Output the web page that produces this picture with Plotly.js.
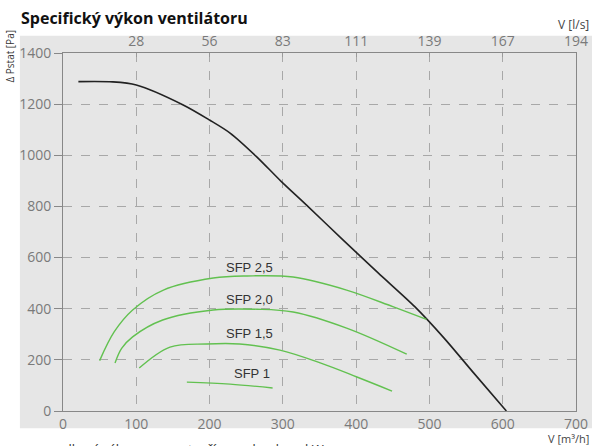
<!DOCTYPE html>
<html><head><meta charset="utf-8">
<script src="https://cdn.plot.ly/plotly-3.0.1.min.js"></script>
<style>html,body{margin:0;padding:0;background:#fff}#c{width:592px;height:446px}</style>
</head><body><div id="c"></div>
<script>
// Fan curve (black)
const fanX = [21, 68, 100, 164, 200, 228, 264, 298, 332, 382, 430, 480, 520, 560, 605];
const fanY = [1288, 1287, 1275, 1197, 1138, 1087, 995, 897, 806, 669, 540, 408, 285, 150, 0];
// SFP curves (green)
const sfp25X = [50, 70, 95, 137, 205, 251, 314, 387, 450, 496];
const sfp25Y = [197, 310, 395, 473, 520, 528, 524, 473, 408, 358];
const sfp20X = [71, 80, 95, 136, 205, 265, 314, 387, 469];
const sfp20Y = [188, 245, 290, 356, 395, 398, 387, 324, 222];
const sfp15X = [104, 146, 196, 241, 296, 351, 401, 449];
const sfp15Y = [168, 250, 262, 262, 238, 188, 133, 78];
const sfp10X = [169, 228, 286];
const sfp10Y = [113, 105, 90];
const sfpLabels = ["SFP 2,5", "SFP 2,0", "SFP 1,5", "SFP 1"];
const sfpLabelX = [255, 255, 255, 258];
const sfpLabelY = [563, 438, 305, 145];
// axes
const bottomTicks = [0, 100, 200, 300, 400, 500, 600, 700];
const topTickVals = [100, 200, 300, 400, 500, 600, 700];
const topTickText = ["28", "56", "83", "111", "139", "167", "194"];
const yTicks = [0, 200, 400, 600, 800, 1000, 1200, 1400];

const green = '#62c150';
const traces = [
  {x: fanX, y: fanY, mode: 'lines', line: {color: '#222', width: 1.6, shape: 'spline', smoothing: 0.8}},
  {x: sfp25X, y: sfp25Y, mode: 'lines', line: {color: green, width: 1.4, shape: 'spline'}},
  {x: sfp20X, y: sfp20Y, mode: 'lines', line: {color: green, width: 1.4, shape: 'spline'}},
  {x: sfp15X, y: sfp15Y, mode: 'lines', line: {color: green, width: 1.4, shape: 'spline'}},
  {x: sfp10X, y: sfp10Y, mode: 'lines', line: {color: green, width: 1.4, shape: 'spline'}},
  {x: topTickVals, y: topTickVals.map(() => null), xaxis: 'x2', mode: 'lines', hoverinfo: 'skip', showlegend: false}
];

const tickFont = {family: 'Open Sans, Noto Sans, sans-serif', size: 14, color: '#7a7a7a'};
const annotations = sfpLabels.map((t, i) => ({
  x: sfpLabelX[i], y: sfpLabelY[i], xref: 'x', yref: 'y', text: t, showarrow: false,
  font: {family: 'Liberation Sans, Arial, sans-serif', size: 13, color: '#333'}
}));
annotations.push(
  {xref: 'paper', yref: 'paper', x: 1.03, y: 1.05, xanchor: 'right', yanchor: 'bottom', text: 'V [l/s]', showarrow: false,
   font: {family: 'Open Sans, sans-serif', size: 12, color: '#444'}},
  {xref: 'paper', yref: 'paper', x: 1.03, y: -0.05, xanchor: 'right', yanchor: 'top', text: 'V [m³/h]', showarrow: false,
   font: {family: 'Open Sans, sans-serif', size: 11, color: '#444'}},
  {xref: 'paper', yref: 'paper', x: -0.086, y: 1.062, xanchor: 'left', yanchor: 'bottom', text: '<b>Specifický výkon ventilátoru</b>', showarrow: false,
   font: {family: 'Open Sans, sans-serif', size: 16, color: '#111'}},
  {xref: 'paper', yref: 'paper', x: -0.103, y: 1.07, xanchor: 'center', yanchor: 'top', text: 'Δ Pstat [Pa]', textangle: -90, showarrow: false,
   font: {family: 'Open Sans, sans-serif', size: 10, color: '#333'}},
  {xref: 'paper', yref: 'paper', x: -0.02, y: -0.075, xanchor: 'left', yanchor: 'top', text: 'celkový výkon pro vent. přív. a odpad. vz. kW', showarrow: false,
   font: {family: 'Open Sans, sans-serif', size: 13, color: '#333'}}
);

const layout = {
  width: 592, height: 446,
  margin: {l: 63, r: 16, t: 53, b: 35, pad: 0},
  paper_bgcolor: '#fff', plot_bgcolor: 'rgba(0,0,0,0)',
  showlegend: false,
  xaxis: {range: [0, 700], tickvals: bottomTicks, tickfont: tickFont, showgrid: true, gridcolor: '#a8a8a8', griddash: 'dash', gridwidth: 1,
          showline: true, linecolor: '#888', linewidth: 1, mirror: false, zeroline: false, ticks: '', fixedrange: true},
  xaxis2: {range: [0, 700], overlaying: 'x', side: 'top', tickvals: topTickVals, ticktext: topTickText, tickfont: tickFont,
           showgrid: false, showline: true, linecolor: '#888', linewidth: 1, zeroline: false, ticks: 'inside', ticklen: 4, tickcolor: '#999'},
  yaxis: {range: [0, 1400], tickvals: yTicks, tickfont: tickFont, showgrid: true, gridcolor: '#a8a8a8', griddash: 'dash', gridwidth: 1,
          showline: true, linecolor: '#888', linewidth: 1, mirror: true, zeroline: false, ticks: 'outside', ticklen: 8, tickcolor: '#888'},
  shapes: [
    {type: 'rect', xref: 'paper', yref: 'paper', x0: -0.084, x1: 1.04, y0: -0.048, y1: 1.048, fillcolor: '#e6e6e6', line: {width: 0}, layer: 'below'}
  ],
  annotations: annotations
};
Plotly.newPlot('c', traces, layout, {staticPlot: true});
</script>
</body></html>
